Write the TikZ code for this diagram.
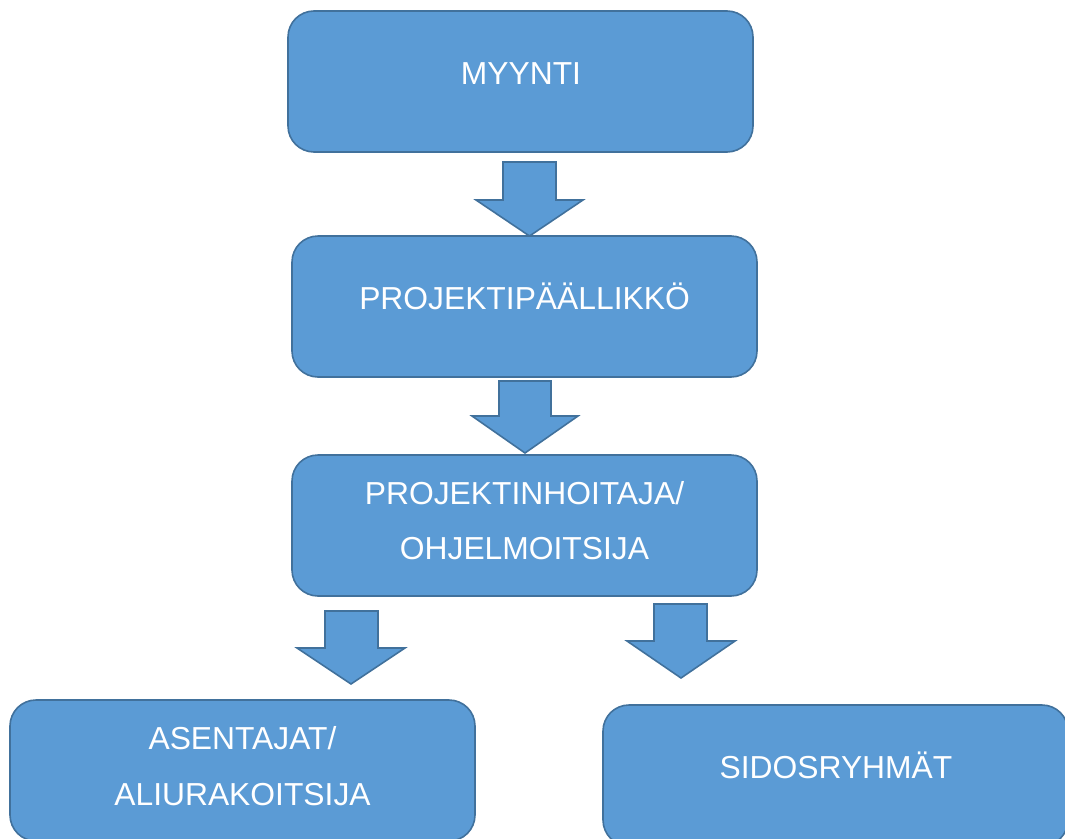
\documentclass[tikz,border=0pt]{standalone}
\usepackage{fontspec}
\setmainfont{Liberation Sans}
\definecolor{boxfill}{HTML}{5B9BD5}
\definecolor{boxline}{HTML}{41719C}
\tikzset{
  box/.style={draw=boxline, fill=boxfill, line width=1.6pt, rounded corners=26pt, minimum width=465pt, minimum height=141pt, inner sep=0pt},
  lbl/.style={text=white, anchor=base, inner sep=0pt, font=\fontsize{31.8}{38}\selectfont},
  blockarrow/.style={draw=boxline, fill=boxfill, line width=1.6pt, line join=miter}
}
\begin{document}
\begin{tikzpicture}[x=1pt,y=-1pt]
\useasboundingbox (0,0) rectangle (1065,838);
\clip (0,0) rectangle (1065,838);
% boxes
\node[box] (myynti) at (520.5,81.5) {};
\node[box] (pp) at (524.5,306.5) {};
\node[box] (ph) at (524.5,525.5) {};
\node[box] (as) at (242.5,770.5) {};
\node[box] (sid) at (835.5,775.5) {};
% labels
\node[lbl] (t1) at (521,84.5) {MYYNTI};
\node[lbl] (t2) at (524.5,309.5) {PROJEKTIPÄÄLLIKKÖ};
\node[lbl] (t3a) at (524.5,504.5) {PROJEKTINHOITAJA/};
\node[lbl] (t3b) at (524.5,559.5) {OHJELMOITSIJA};
\node[lbl] (t4a) at (242.5,749.5) {ASENTAJAT/};
\node[lbl] (t4b) at (242.5,805.5) {ALIURAKOITSIJA};
\node[lbl] (t5) at (836,778.5) {SIDOSRYHMÄT};
% block arrows
\draw[blockarrow] (503,162) -- (556,162) -- (556,200) -- (583,200) -- (529.5,236) -- (476,200) -- (503,200) -- cycle;
\draw[blockarrow] (499,381) -- (551,381) -- (551,416) -- (578,416) -- (525,453) -- (472,416) -- (499,416) -- cycle;
\draw[blockarrow] (325,611) -- (378,611) -- (378,648) -- (405,648) -- (351,684) -- (297,648) -- (325,648) -- cycle;
\draw[blockarrow] (654,604) -- (707,604) -- (707,641) -- (735,641) -- (681,678) -- (627,641) -- (654,641) -- cycle;
\end{tikzpicture}
\end{document}
